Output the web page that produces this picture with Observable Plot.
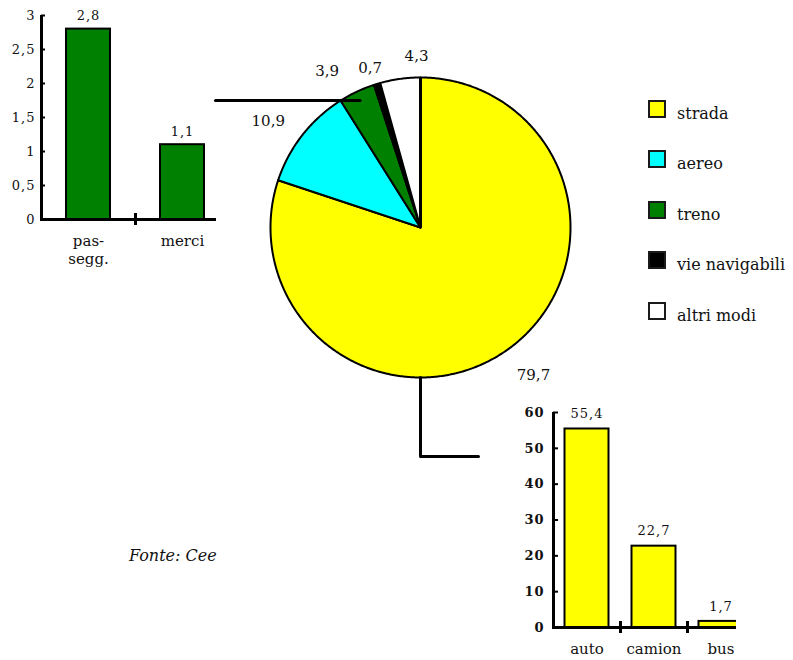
<!DOCTYPE html>
<html>
<head>
<meta charset="utf-8">
<script src="https://cdn.jsdelivr.net/npm/d3@7"></script>
<script src="https://cdn.jsdelivr.net/npm/@observablehq/plot@0.6"></script>
<style>
  body { margin: 0; background: #fff; }
  #chart { position: relative; width: 793px; height: 660px; overflow: hidden; font-family: "DejaVu Serif", serif; background: #fff; }
  #chart > * { position: absolute; }
  .legend-row { display: flex; align-items: flex-start; }
  .legend-swatch { width: 18px; height: 18px; box-sizing: border-box; border: 2px solid #1a1a1a; }
  .legend-label { margin-left: 11px; font-size: 16px; line-height: 16px; padding-top: 6px; color: #111; white-space: nowrap; }
  .source { font-style: italic; font-size: 16px; color: #111; }
</style>
</head>
<body>
<div id="chart"></div>
<script>
// Transport modes and their share (%)
const modes = ["strada", "aereo", "treno", "vie navigabili", "altri modi"];
const shares = [79.7, 10.9, 3.9, 0.7, 4.3];
const modeColors = ["#ffff00", "#00ffff", "#008000", "#000000", "#ffffff"];

// Rail split
const railCats = ["pas-\nsegg.", "merci"];
const railValues = [2.8, 1.1];
const railTicks = [0, 0.5, 1, 1.5, 2, 2.5, 3];

// Road split
const roadCats = ["auto", "camion", "bus"];
const roadValues = [55.4, 22.7, 1.7];
const roadTicks = [0, 10, 20, 30, 40, 50, 60];

const sourceText = "Fonte: Cee";

// Italian number format (decimal comma)
const it = d3.formatLocale({decimal: ",", thousands: ".", grouping: [3], currency: ["", " €"]});
const fmt = it.format("");
const fmt1 = it.format(".1f");

const root = document.getElementById("chart");

// ---------- Pie (full-size layer, 150 px per unit radius) ----------
const unit = 150, cx = 420, cy = 227;
const toX = px => (px - cx) / unit;
const toY = py => (cy - py) / unit;

const arcs = d3.pie().sort(null).value(d => d.value)(
  modes.map((m, i) => ({mode: m, value: shares[i]}))
);

// outline of each slice: centre, then along the rim
const slicePts = arcs.flatMap(a => {
  const pts = [{mode: a.data.mode, x: 0, y: 0}];
  const n = Math.max(2, Math.ceil((a.endAngle - a.startAngle) / 0.01));
  for (let k = 0; k <= n; k++) {
    const t = a.startAngle + (a.endAngle - a.startAngle) * k / n;
    pts.push({mode: a.data.mode, x: Math.sin(t), y: Math.cos(t)});
  }
  return pts;
});

// value labels just outside the rim, with small nudges where they crowd
const labelR = 1.23;
const nudge = {"strada": [5, -2], "aereo": [-7, 7], "treno": [-15, 11], "vie navigabili": [3, 17], "altri modi": [21, 11]};
const labelMarks = arcs.map(a => {
  const t = (a.startAngle + a.endAngle) / 2;
  const d = {x: labelR * Math.sin(t), y: labelR * Math.cos(t), text: fmt1(a.data.value)};
  const [dx, dy] = nudge[a.data.mode];
  return Plot.text([d], {x: "x", y: "y", text: "text", dx, dy, fontSize: 15, fill: "#111"});
});

// leader lines to the two detail charts
const trenoEdge = arcs[2].startAngle;
const railLink = [
  {x: toX(215), y: Math.cos(trenoEdge)},
  {x: Math.sin(trenoEdge) + 0.13, y: Math.cos(trenoEdge)}
];
const roadLink = [
  {x: 0, y: -1},
  {x: 0, y: toY(456)},
  {x: toX(478), y: toY(456)}
];

const pieChart = Plot.plot({
  width: 793, height: 660, margin: 0,
  x: {domain: [toX(0), toX(793)], axis: null},
  y: {domain: [toY(660), toY(0)], axis: null},
  color: {domain: modes, range: modeColors},
  style: {background: "transparent", fontFamily: "DejaVu Serif", overflow: "visible"},
  marks: [
    Plot.line(slicePts, {x: "x", y: "y", z: "mode", fill: "mode", stroke: "black", strokeWidth: 2, curve: "linear-closed"}),
    Plot.ruleX([0], {y1: 0, y2: 1, stroke: "black", strokeWidth: 3}),
    Plot.line(railLink, {x: "x", y: "y", stroke: "black", strokeWidth: 3}),
    Plot.line(roadLink, {x: "x", y: "y", stroke: "black", strokeWidth: 3}),
    ...labelMarks
  ]
});
pieChart.style.left = "0px";
pieChart.style.top = "0px";
root.appendChild(pieChart);

// ---------- Rail detail bars ----------
const railData = railCats.map((c, i) => ({i, cat: c, value: railValues[i]}));
const railChart = Plot.plot({
  width: 232, height: 270,
  marginLeft: 40, marginRight: 16, marginTop: 15, marginBottom: 51,
  x: {domain: [0, railCats.length], range: [41, 229], axis: null},
  y: {domain: [0, 3], axis: null},
  style: {background: "transparent", fontFamily: "DejaVu Serif", overflow: "visible"},
  marks: [
    Plot.rect(railData, {x1: "i", x2: d => d.i + 1, y1: 0, y2: "value", fill: "#008000", stroke: "black", strokeWidth: 2, insetLeft: 25, insetRight: 25}),
    Plot.ruleX([0], {stroke: "black", strokeWidth: 3}),
    Plot.ruleY([0], {stroke: "black", strokeWidth: 3}),
    Plot.ruleY(railTicks, {y: d => d, x1: 0, x2: 0, insetRight: -4, stroke: "black", strokeWidth: 2}),
    Plot.ruleX(d3.range(1, railCats.length), {x: d => d, y1: 0, y2: 0, insetTop: -6, insetBottom: -6, stroke: "black", strokeWidth: 3}),
    Plot.text(railTicks, {x: 0, y: d => d, text: d => fmt(d), textAnchor: "end", dx: -6, fontSize: 13, fill: "#111"}),
    Plot.text(railData, {x: d => d.i + 0.5, y: "value", text: d => fmt1(d.value), dy: -13, fontSize: 13, fill: "#111"}),
    Plot.text(railData, {x: d => d.i + 0.5, y: 0, text: "cat", lineAnchor: "top", dy: 14, fontSize: 15, lineHeight: 1.17, fill: "#111"})
  ]
});
railChart.style.left = "0px";
railChart.style.top = "0px";
root.appendChild(railChart);

// ---------- Road detail bars (clipped at the right edge) ----------
const roadData = roadCats.map((c, i) => ({i, cat: c, value: roadValues[i]}));
const roadWrap = document.createElement("div");
roadWrap.style.left = "500px";
roadWrap.style.top = "390px";
roadWrap.style.width = "236px";
roadWrap.style.height = "270px";
roadWrap.style.overflow = "hidden";
const roadChart = Plot.plot({
  width: 236, height: 270,
  marginLeft: 52, marginRight: 0, marginTop: 22, marginBottom: 33,
  x: {domain: [0, roadCats.length], range: [53, 254], axis: null},
  y: {domain: [0, 60], axis: null},
  style: {background: "transparent", fontFamily: "DejaVu Serif", overflow: "visible"},
  marks: [
    Plot.rect(roadData, {x1: "i", x2: d => d.i + 1, y1: 0, y2: "value", fill: "#ffff00", stroke: "black", strokeWidth: 2, insetLeft: 11.5, insetRight: 11.5}),
    Plot.ruleX([0], {stroke: "black", strokeWidth: 3}),
    Plot.ruleY([0], {stroke: "black", strokeWidth: 3}),
    Plot.ruleY(roadTicks, {y: d => d, x1: 0, x2: 0, insetRight: -5, stroke: "black", strokeWidth: 2}),
    Plot.ruleX(d3.range(1, roadCats.length), {x: d => d, y1: 0, y2: 0, insetTop: -6, insetBottom: -6, stroke: "black", strokeWidth: 3}),
    Plot.text(roadTicks, {x: 0, y: d => d, text: d => fmt(d), textAnchor: "end", dx: -9, fontSize: 13, fontWeight: "bold", fill: "#111"}),
    Plot.text(roadData, {x: d => d.i + 0.5, y: "value", text: d => fmt1(d.value), dy: -15, fontSize: 13, fill: "#111"}),
    Plot.text(roadData, {x: d => d.i + 0.5, y: 0, text: "cat", lineAnchor: "top", dy: 16, fontSize: 15, fill: "#111"})
  ]
});
roadWrap.appendChild(roadChart);
root.appendChild(roadWrap);

// spaced-out numerals on the bar charts
for (const svg of [railChart, roadChart]) {
  d3.select(svg).selectAll("text")
    .filter(function () { return /^[\d,]+$/.test(this.textContent); })
    .attr("letter-spacing", 1);
}

// ---------- Legend ----------
const legend = document.createElement("div");
legend.style.left = "648px";
legend.style.top = "100px";
modes.forEach((m, i) => {
  const row = document.createElement("div");
  row.className = "legend-row";
  row.style.position = "absolute";
  row.style.top = (i * 50.4) + "px";
  row.style.left = "0px";
  const sw = document.createElement("div");
  sw.className = "legend-swatch";
  sw.style.background = modeColors[i];
  const lab = document.createElement("div");
  lab.className = "legend-label";
  lab.textContent = m;
  row.appendChild(sw);
  row.appendChild(lab);
  legend.appendChild(row);
});
root.appendChild(legend);

// ---------- Source note ----------
const src = document.createElement("div");
src.className = "source";
src.style.left = "129px";
src.style.top = "546px";
src.textContent = sourceText;
root.appendChild(src);
</script>
</body>
</html>
